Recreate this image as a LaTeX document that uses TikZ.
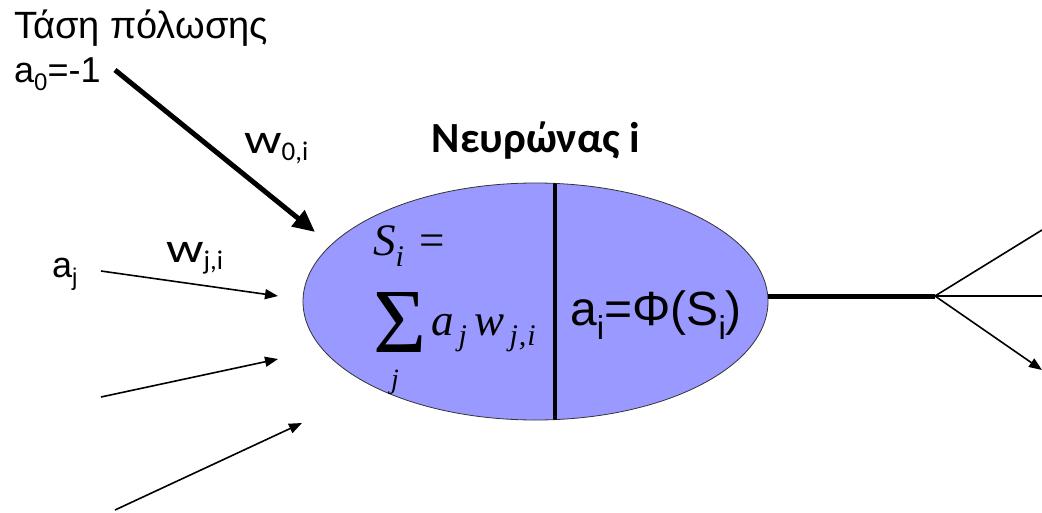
\documentclass[tikz,border=0pt]{standalone}
\usepackage{fontspec}
\setmainfont{Liberation Sans}
\newfontfamily\calfont{Carlito}
\newfontfamily\timesfont{Liberation Serif}
\usetikzlibrary{arrows.meta,shapes.geometric}
% subscript helper: size, drop, text
\newcommand{\mysub}[3]{\raisebox{-#2}{\fontsize{#1}{#1}\selectfont #3}}
\tikzset{
  lbl/.style={inner sep=0pt, anchor=base west},
  thin arrow/.style={line width=1.6pt, -{Triangle[length=13pt,width=10pt]}},
  thick arrow/.style={line width=5pt, -{Triangle[length=22pt,width=20pt]}},
  fanline/.style={line width=1.6pt},
}
\begin{document}
\begin{tikzpicture}[x=1pt,y=-1pt]
\useasboundingbox (0,0) rectangle (1042,512);
% neuron body
\node (neuron) [draw=black!80, line width=0.8pt, fill={rgb,255:red,153;green,153;blue,255},
  ellipse, minimum width=465pt, minimum height=237pt, inner sep=0pt] at (535.5,301.5) {};
\begin{scope}
  \clip (535.5,301.5) ellipse [x radius=232.5pt, y radius=118.5pt];
  \draw[line width=4pt] (555,170) -- (555,430);
\end{scope}
% texts
\node (tasi) [lbl] at (14,38) {\fontsize{38}{42}\selectfont Τάση πόλωσης};
\node (a0) [lbl] at (14,82) {\fontsize{36}{40}\selectfont a\mysub{24}{8pt}{0}=-1};
\node (w0) [lbl] at (244,153) {\calfont\fontsize{42}{44}\selectfont\scalebox{1.25}[1]{w}\mysub{27}{7pt}{0,i}};
\node (title) [inner sep=0pt, anchor=base] at (536,152) {\calfont\bfseries\fontsize{43}{46}\selectfont Νευρώνας i};
\node (aj) [lbl] at (52,277) {\fontsize{36}{40}\selectfont a\mysub{24}{8pt}{j}};
\node (wj) [lbl] at (166,262) {\calfont\fontsize{42}{44}\selectfont\scalebox{1.25}[1]{w}\mysub{27}{7pt}{j,i}};
\node (si) [lbl] at (373,255) {\timesfont\fontsize{45}{48}\selectfont\textit{S}\mysub{30}{11pt}{\itshape i}\,\,=};
\node (sigma) [inner sep=0pt, anchor=north west] at (373,292) {\resizebox{53pt}{60pt}{\timesfont Σ}};
\node (sumj) [lbl] at (391,388) {\timesfont\itshape\fontsize{28}{28}\selectfont j};
\node (sum) [lbl] at (431,335) {\timesfont\itshape\fontsize{45}{48}\selectfont a\mysub{30}{10pt}{\,j}\,w\mysub{30}{10pt}{\,j\kern1pt,\kern1pt i}};
\node (act) [lbl] at (570,325) {\fontsize{48}{50}\selectfont a\mysub{33}{14pt}{i}=Φ(S\mysub{33}{14pt}{i})};
% coordinates
\coordinate (b0) at (115,70);
\coordinate (b1) at (315,232);
\coordinate (i1s) at (101,271);
\coordinate (i1e) at (278,296);
\coordinate (i2s) at (101,397);
\coordinate (i2e) at (278,359);
\coordinate (i3s) at (115,510);
\coordinate (i3e) at (302,423);
\coordinate (ax) at (935,296);
\coordinate (o1) at (1042,230);
\coordinate (o2) at (1042,296);
\coordinate (o3) at (1042,370);
% arrows
\draw[thick arrow] (b0) -- (b1);
\draw[thin arrow] (i1s) -- (i1e);
\draw[thin arrow] (i2s) -- (i2e);
\draw[thin arrow] (i3s) -- (i3e);
\draw[line width=5pt] (neuron.east |- ax) -- (ax);
\draw[fanline] (ax) -- (o1);
\draw[fanline] (ax) -- (o2);
\draw[thin arrow] (ax) -- (o3);
\end{tikzpicture}
\end{document}
